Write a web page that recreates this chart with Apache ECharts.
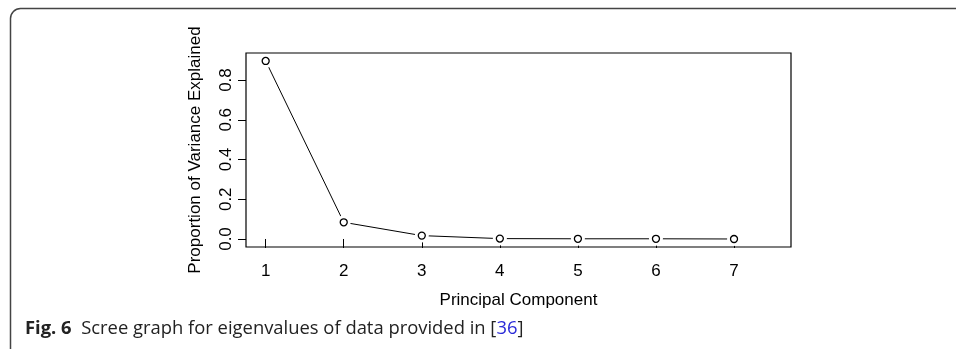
<!DOCTYPE html>
<html>
<head>
<meta charset="utf-8">
<script src="https://cdn.jsdelivr.net/npm/echarts@6/dist/echarts.min.js"></script>
<style>
  html, body { margin: 0; padding: 0; background: #fff; }
  #chart { width: 956px; height: 349px; }
</style>
</head>
<body>
<div id="chart"></div>
<script>
// scree plot values
const components = [1, 2, 3, 4, 5, 6, 7]
const varianceExplained = [0.896, 0.084, 0.017, 0.002, 0.001, 0.001, 0.0]
const yTicks = [0, 0.2, 0.4, 0.6, 0.8]

const points = components.map((c, i) => [c, varianceExplained[i]])
const chart = echarts.init(document.getElementById('chart'))
const axisFont = 'Liberation Sans, Arial, sans-serif'

chart.setOption({
  animation: false,
  grid: {
    left: 246, right: 165, top: 53, bottom: 102,
    show: true, borderColor: '#000', borderWidth: 1.2,
  },
  xAxis: {
    type: 'value', min: 0.748, max: 7.73,
    name: 'Principal Component', nameLocation: 'middle', nameGap: 45,
    nameTextStyle: { fontFamily: axisFont, fontSize: 17, color: '#000' },
    axisLine: { show: false },
    splitLine: { show: false },
    axisTick: { show: true, length: 9, customValues: components, lineStyle: { color: '#000' } },
    axisLabel: { customValues: components, margin: 16, fontFamily: axisFont, fontSize: 17, color: '#000' },
  },
  yAxis: {
    type: 'value', min: -0.0403, max: 0.936,
    name: 'Proportion of Variance Explained', nameLocation: 'middle', nameGap: 42,
    nameTextStyle: { fontFamily: axisFont, fontSize: 17, color: '#000' },
    axisLine: { show: false },
    splitLine: { show: false },
    axisTick: { show: true, length: 8, customValues: yTicks, lineStyle: { color: '#000' } },
    axisLabel: {
      customValues: yTicks, rotate: 90, margin: 11,
      fontFamily: axisFont, fontSize: 17, color: '#000',
      formatter: v => v.toFixed(1),
    },
  },
  series: [
    {
      type: 'line', data: points, showSymbol: false,
      lineStyle: { color: '#000', width: 1 },
      z: 2,
    },
    {
      // white discs so the line stops short of the markers, like type="b" in R
      type: 'scatter', data: points,
      symbol: 'circle', symbolSize: 14,
      itemStyle: { color: '#fff', opacity: 1 },
      z: 3,
    },
    {
      type: 'scatter', data: points,
      symbol: 'circle', symbolSize: 7,
      itemStyle: { color: '#fff', borderColor: '#000', borderWidth: 1.3, opacity: 1 },
      z: 4,
    },
  ],
  graphic: [
    {
      type: 'rect', left: 8, top: 6, silent: true,
      shape: { width: 1000, height: 360, r: 10 },
      style: { fill: 'none', stroke: '#444', lineWidth: 1.5 },
    },
    {
      type: 'text', left: 25, top: 320,
      style: {
        text: '{b|Fig. 6}  Scree graph for eigenvalues of data provided in [{l|36}]',
        font: '18.4px "Open Sans", sans-serif', fill: '#222',
        rich: {
          b: { fontFamily: 'Open Sans', fontSize: 18.4, fontWeight: 'bold', fill: '#222' },
          l: { fontFamily: 'Open Sans', fontSize: 18.4, fill: '#2a2ad8' },
        },
      },
    },
  ],
})
</script>
</body>
</html>
